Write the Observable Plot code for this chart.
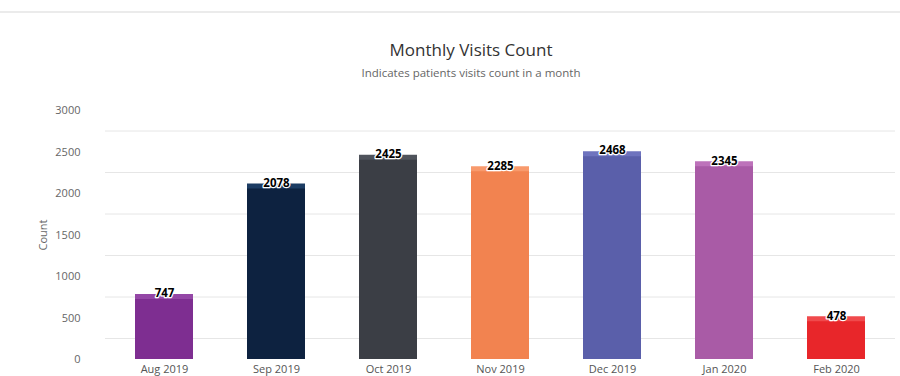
<!DOCTYPE html>
<html>
<head>
<meta charset="utf-8">
<script src="https://cdn.jsdelivr.net/npm/d3@7"></script>
<script src="https://cdn.jsdelivr.net/npm/@observablehq/plot@0.6"></script>
<style>
  html, body { margin: 0; padding: 0; background: #fff; width: 900px; height: 376px; overflow: hidden; }
  #head { position: relative; height: 90px; font-family: "Open Sans", "Lato", sans-serif; }
  #topline { position: absolute; left: 0; right: 0; top: 11px; height: 2px; background: #ebebeb; }
  #title { position: absolute; left: 42px; right: 0; top: 38px; text-align: center; font-size: 17px; color: #333; }
  #subtitle { position: absolute; left: 42px; right: 0; top: 65px; text-align: center; font-size: 11.5px; color: #666; }
  #chart svg { display: block; }
</style>
</head>
<body>
<div id="head">
  <div id="topline"></div>
  <div id="title">Monthly Visits Count</div>
  <div id="subtitle">Indicates patients visits count in a month</div>
</div>
<div id="chart"></div>
<script>
const months = ["Aug 2019", "Sep 2019", "Oct 2019", "Nov 2019", "Dec 2019", "Jan 2020", "Feb 2020"];
const visits = [747, 2078, 2425, 2285, 2468, 2345, 478];
const barColors = ["#7e2e91", "#0d2240", "#3b3e45", "#f28350", "#5a5faa", "#a95ba6", "#e8262a"];
const topColors = ["#9447a6", "#1c3c63", "#4f535b", "#f89a6c", "#6e73be", "#bd72ba", "#f04a4c"];
const yTicks = [0, 500, 1000, 1500, 2000, 2500, 3000];

const data = months.map((m, i) => ({month: m, value: visits[i], color: barColors[i], top: topColors[i]}));

const chart = Plot.plot({
  width: 900,
  height: 286,
  marginLeft: 105,
  marginRight: 5,
  marginTop: 20,
  marginBottom: 17,
  style: {fontFamily: "'Open Sans', 'Lato', sans-serif", fontSize: "11px", color: "#666", background: "#fff"},
  x: {domain: months, paddingInner: 0.48, paddingOuter: 0.24, label: null},
  y: {domain: [0, 3000], label: "Count"},
  marks: [
    Plot.ruleY(yTicks, {stroke: "#e6e6e6", strokeWidth: 1, dy: -21}),
    Plot.barY(data, {x: "month", y: "value", fill: "color"}),
    Plot.tickY(data, {x: "month", y: "value", stroke: "top", strokeWidth: 5, dy: -1}),
    Plot.text(data, {x: "month", y: "value", text: d => String(d.value), dy: -4, fill: "#000", stroke: "#fff", strokeWidth: 2.5, fontWeight: "bold", fontSize: 11.5}),
    Plot.axisX({tickSize: 0, tickPadding: 6, fill: "#555", fontSize: 11}),
    Plot.axisY({ticks: yTicks, tickFormat: "d", tickSize: 0, tickPadding: 25, fill: "#666", label: "Count", labelAnchor: "center", labelArrow: "none", labelOffset: 66})
  ]
});
document.getElementById("chart").appendChild(chart);
</script>
</body>
</html>
